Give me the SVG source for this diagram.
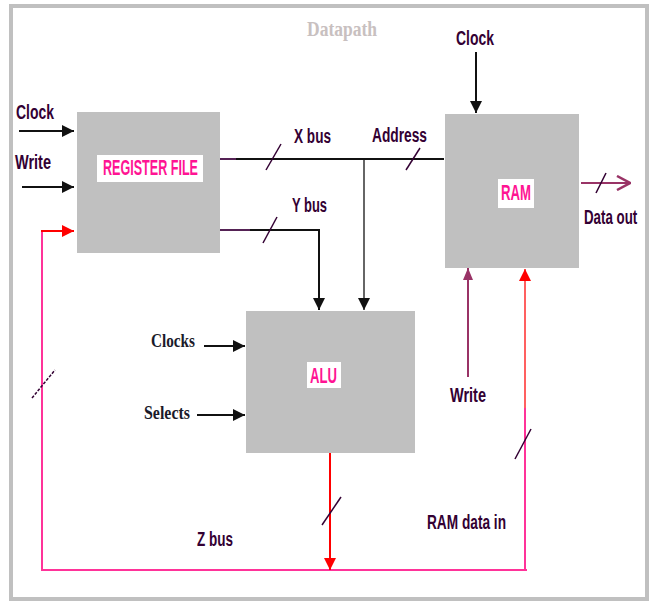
<svg xmlns="http://www.w3.org/2000/svg" width="652" height="601" viewBox="0 0 652 601">
<defs>
<style>
.box{fill:#c0c0c0;}
.lbox{fill:#ffffff;}
.ttl{font-family:"Liberation Sans Narrow","Liberation Sans",Arial,sans-serif;font-weight:bold;fill:#ff1493;font-size:22px;}
.lab{font-family:"Liberation Sans Narrow","Liberation Sans",Arial,sans-serif;font-weight:bold;fill:#330033;font-size:20px;}
.ser{font-family:"Liberation Serif","Times New Roman",serif;font-weight:bold;fill:#1a1a2a;font-size:19px;}
.blk{stroke:#111;stroke-width:2;fill:none;}
.pur{stroke:#993366;stroke-width:2;fill:none;}
.red{stroke:#ff0000;stroke-width:2;fill:none;}
.pink{stroke:#ff3399;stroke-width:2;fill:none;}
.slash{stroke:#330033;stroke-width:1.5;fill:none;}
</style>
<marker id="ab" markerUnits="userSpaceOnUse" markerWidth="12" markerHeight="12" viewBox="0 0 12 12" refX="12" refY="6" orient="auto"><path d="M0,0 L12,6 L0,12 Z" fill="#111"/></marker>
<marker id="ar" markerUnits="userSpaceOnUse" markerWidth="12" markerHeight="12" viewBox="0 0 12 12" refX="12" refY="6" orient="auto"><path d="M0,0 L12,6 L0,12 Z" fill="#ff0000"/></marker>
<marker id="ap" markerUnits="userSpaceOnUse" markerWidth="12" markerHeight="12" viewBox="0 0 12 12" refX="12" refY="6" orient="auto"><path d="M0,1 L12,6 L0,11 Z" fill="#993366"/></marker>
<marker id="ao" markerUnits="userSpaceOnUse" markerWidth="16" markerHeight="16" viewBox="0 0 16 16" refX="15" refY="8" orient="auto"><path d="M2,1 L15,8 L2,15" fill="none" stroke="#993366" stroke-width="2.5"/></marker>
</defs>
<rect x="0" y="0" width="652" height="601" fill="#ffffff"/>
<rect x="11" y="6" width="636" height="593" fill="none" stroke="#c0c0c0" stroke-width="4"/>
<text x="307" y="36" font-family="Liberation Serif, serif" font-weight="bold" font-size="20" fill="#c8c0c0" textLength="70" lengthAdjust="spacingAndGlyphs">Datapath</text>

<g id="connectors">
<line class="blk" x1="19" y1="131" x2="74" y2="131" marker-end="url(#ab)"/>
<line class="blk" x1="22" y1="187" x2="74" y2="187" marker-end="url(#ab)"/>
<polyline class="pink" points="42,570 42,231"/>
<line class="red" x1="41" y1="231" x2="74" y2="231" marker-end="url(#ar)"/>
<line class="pink" x1="41" y1="570" x2="527" y2="570"/>
<line class="pink" x1="525" y1="571" x2="525" y2="407"/>
<line stroke="#ff6060" stroke-width="2" x1="525" y1="408" x2="525" y2="269" marker-end="url(#ar)"/>
<line class="blk" x1="476" y1="52" x2="476" y2="113" marker-end="url(#ab)"/>
<line class="blk" x1="220" y1="159" x2="444" y2="159"/>
<line stroke="#552255" stroke-width="2" x1="220" y1="159" x2="236" y2="159"/>
<line stroke="#666" stroke-width="2" x1="364" y1="160" x2="364" y2="310" marker-end="url(#ab)"/>
<polyline class="blk" points="217,230 319,230 319,310" marker-end="url(#ab)"/>
<line stroke="#552255" stroke-width="2" x1="217" y1="230" x2="250" y2="230"/>
<line class="blk" x1="204" y1="346" x2="245" y2="346" marker-end="url(#ab)"/>
<line class="blk" x1="197" y1="415" x2="245" y2="415" marker-end="url(#ab)"/>
<line class="red" x1="330" y1="453" x2="330" y2="570" marker-end="url(#ar)"/>
<line class="pur" x1="468" y1="377" x2="468" y2="268" marker-end="url(#ap)"/>
<line class="pur" x1="581" y1="183" x2="630" y2="183" marker-end="url(#ao)"/>
<line class="slash" x1="266" y1="170" x2="281" y2="144"/>
<line class="slash" x1="406" y1="170" x2="420" y2="148"/>
<line class="slash" x1="263" y1="243" x2="277" y2="217"/>
<line class="slash" x1="596" y1="193" x2="606" y2="173"/>
<line class="slash" x1="32" y1="398" x2="55" y2="370" stroke-dasharray="3,1.5"/>
<line class="slash" x1="322" y1="525" x2="341" y2="497"/>
<line class="slash" x1="515" y1="459" x2="531" y2="429"/>
</g>

<g id="register-file">
<rect class="box" x="77" y="112" width="143" height="141"/>
<rect class="lbox" x="97" y="155" width="106" height="27"/>
<text class="ttl" x="103" y="175" textLength="95" lengthAdjust="spacingAndGlyphs">REGISTER FILE</text>
</g>
<g id="ram">
<rect class="box" x="445" y="114" width="134" height="154"/>
<rect class="lbox" x="498" y="179" width="36" height="29"/>
<text class="ttl" x="501" y="200" textLength="30" lengthAdjust="spacingAndGlyphs">RAM</text>
</g>
<g id="alu">
<rect class="box" x="246" y="311" width="169" height="142"/>
<rect class="lbox" x="307" y="362" width="34" height="26"/>
<text class="ttl" x="310" y="383" textLength="27" lengthAdjust="spacingAndGlyphs">ALU</text>
</g>

<g id="labels">
<text class="lab" x="16" y="119" textLength="38" lengthAdjust="spacingAndGlyphs">Clock</text>
<text class="lab" x="15" y="169" textLength="36" lengthAdjust="spacingAndGlyphs">Write</text>
<text class="lab" x="456" y="45" textLength="38" lengthAdjust="spacingAndGlyphs">Clock</text>
<text class="lab" x="294" y="143" textLength="37" lengthAdjust="spacingAndGlyphs">X bus</text>
<text class="lab" x="372" y="142" textLength="55" lengthAdjust="spacingAndGlyphs">Address</text>
<text class="lab" x="292" y="212" textLength="35" lengthAdjust="spacingAndGlyphs">Y bus</text>
<text class="lab" transform="translate(584,224) scale(0.7,1)" x="0" y="0" textLength="76" lengthAdjust="spacingAndGlyphs">Data out</text>
<text class="ser" x="151" y="347" textLength="44" lengthAdjust="spacingAndGlyphs">Clocks</text>
<text class="ser" x="144" y="419" textLength="46" lengthAdjust="spacingAndGlyphs">Selects</text>
<text class="lab" x="450" y="402" textLength="36" lengthAdjust="spacingAndGlyphs">Write</text>
<text class="lab" x="427" y="529" textLength="79" lengthAdjust="spacingAndGlyphs">RAM data in</text>
<text class="lab" x="197" y="546" textLength="36" lengthAdjust="spacingAndGlyphs">Z bus</text>
</g>
</svg>
